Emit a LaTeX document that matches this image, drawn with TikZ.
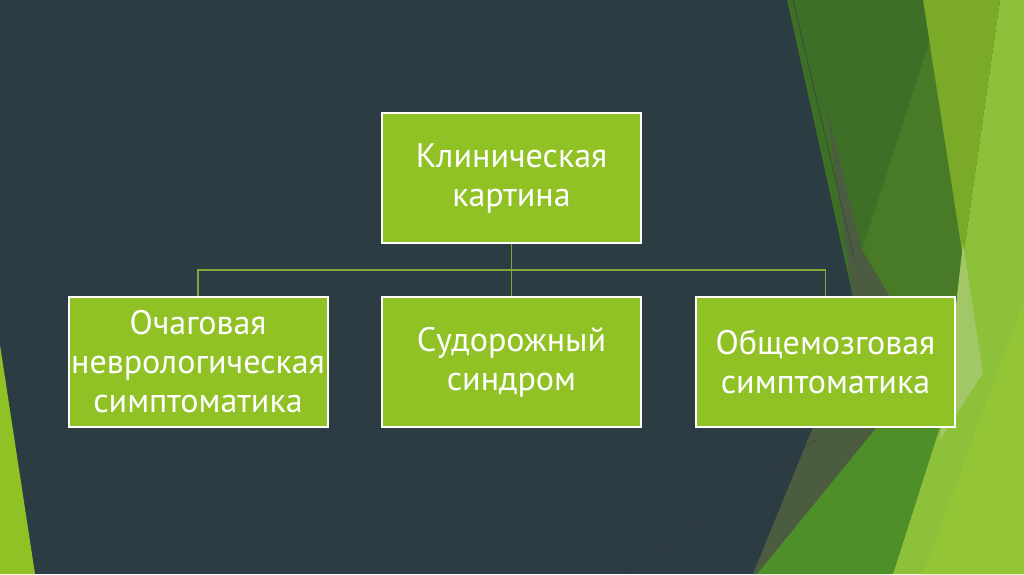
\documentclass[tikz,border=0pt]{standalone}
\usepackage{fontspec}
\setmainfont{PT Sans}
\pgfdeclarelayer{bglayer}
\pgfdeclarelayer{nodelayer}
\pgfdeclarelayer{edgelayer}
\pgfsetlayers{bglayer,edgelayer,nodelayer,main}
\definecolor{slate}{HTML}{2C3C43}
\definecolor{facetgreen}{HTML}{90C226}
\definecolor{linegreen}{HTML}{7FA836}
\definecolor{dkgreen}{HTML}{3E6F27}
\definecolor{mdgreen}{HTML}{487A27}
\definecolor{olive}{HTML}{4C5C40}
\definecolor{midlime}{HTML}{7AAA28}
\definecolor{lime}{HTML}{8DC13A}
\definecolor{litelime}{HTML}{94C537}
\definecolor{pale}{HTML}{A2C766}
\definecolor{grassgreen}{HTML}{4F8F2A}
\definecolor{hairgray}{HTML}{3A3540}
\tikzstyle{box}=[fill=facetgreen, draw=white, line width=1pt, text=white, minimum width=129.5pt, minimum height=65pt, inner sep=1pt, align=center, font=\fontsize{17pt}{19.5pt}\selectfont]
\tikzstyle{tree edge}=[draw=linegreen, line width=0.8pt]
\tikzstyle{hairline}=[draw=hairgray, line width=0.4pt, opacity=0.6]

\begin{document}
\begin{tikzpicture}[x=0.5pt, y=-0.5pt]
    	\useasboundingbox (0,0) rectangle (1024,574);
    	\begin{pgfonlayer}{bglayer}
    		\fill [slate] (0,0) rectangle (1024,574);
    		\fill [facetgreen] (0,345) -- (35,574) -- (0,574) -- cycle;
    		% facets on the right
    		\fill [dkgreen] (787,0) -- (923,0) -- (963,258) -- (955,297) -- (853,297) -- cycle;
    		\fill [mdgreen] (930,40) -- (963,258) -- (957,297) -- (890,297) -- (862,250) -- cycle;
    		\fill [olive] (826,105) -- (862,250) -- (890,297) -- (877,427) -- (757,574) -- (753,574) -- (813,427) -- (853,297) -- cycle;
    		\fill [grassgreen] (877,427) -- (940,427) -- (893,574) -- (757,574) -- cycle;
    		\fill [midlime] (923,0) -- (1000,0) -- (963,258) -- cycle;
    		\fill [lime] (1000,0) -- (1024,0) -- (1024,574) -- (893,574) -- (940,427) -- (963,258) -- cycle;
    		\fill [litelime] (1024,300) -- (1024,574) -- (923,574) -- cycle;
    		\fill [pale] (963,243) -- (983,373) -- (940,440) -- (952,340) -- cycle;
    		\draw [style=hairline] (793,0) -- (855,262);
    		\draw [style=hairline] (815,440) -- (628,574);
    	\end{pgfonlayer}
    	\begin{pgfonlayer}{nodelayer}
    		\node [style=box] (0) at (511.5, 178) {Клиническая\\картина};
    		\node [style=box] (1) at (198, 362) {Очаговая\\неврологическая\\симптоматика};
    		\node [style=box] (2) at (511.5, 362) {Судорожный\\синдром};
    		\node [style=box] (3) at (825.5, 362) {Общемозговая\\симптоматика};
    	\end{pgfonlayer}
    	\begin{pgfonlayer}{edgelayer}
    		\coordinate (4) at (511.5, 270);
    		\draw [style=tree edge] (0.south) -- (4);
    		\draw [style=tree edge] (4) -| (1.north);
    		\draw [style=tree edge] (4) -- (2.north);
    		\draw [style=tree edge] (4) -| (3.north);
    	\end{pgfonlayer}
    \end{tikzpicture}
\end{document}
